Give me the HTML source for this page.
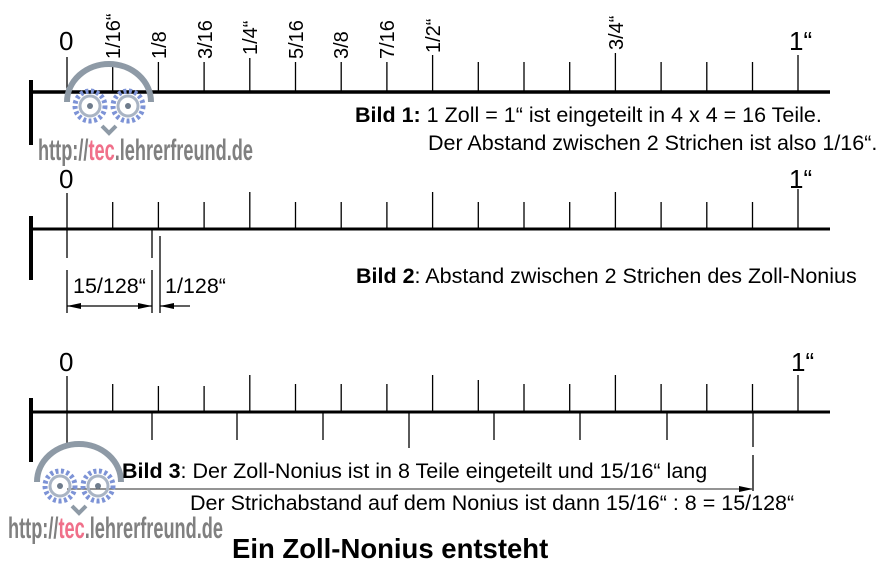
<!DOCTYPE html>
<html><head><meta charset="utf-8"><style>
html,body{margin:0;padding:0;background:#fff}
svg{display:block}
text{font-family:"Liberation Sans",sans-serif;fill:#000}
</style></head><body>
<svg width="880" height="579" viewBox="0 0 880 579" xmlns="http://www.w3.org/2000/svg">
<defs>
<marker id="al" markerWidth="14" markerHeight="6" refX="0" refY="3" orient="auto" markerUnits="userSpaceOnUse"><path d="M14,0 L0,3 L14,6 Z" fill="#000"/></marker>
<marker id="ar" markerWidth="14" markerHeight="6" refX="14" refY="3" orient="auto" markerUnits="userSpaceOnUse"><path d="M0,0 L14,3 L0,6 Z" fill="#000"/></marker>
<g id="owl">
<path d="M-42,14 A42,38 0 0 1 42,14" fill="none" stroke="#8e9aa6" stroke-width="6"/>
<g fill="none" stroke="#7d93d6" stroke-width="5" stroke-dasharray="3 2.5"><circle cx="-19" cy="18" r="15"/><circle cx="19" cy="18" r="15"/></g>
<g fill="none" stroke="#a9b4c4" stroke-width="3"><circle cx="-19" cy="18" r="10"/><circle cx="19" cy="18" r="10"/></g>
<circle cx="-19" cy="18" r="3" fill="#6f7c8c"/><circle cx="19" cy="18" r="3" fill="#6f7c8c"/>
<path d="M-7,38 L0,45 L7,38" fill="none" stroke="#8e9aa6" stroke-width="4"/>
</g>
</defs>

<!-- Ruler 1 -->
<g stroke="#000">
<line x1="31" y1="80" x2="31" y2="145" stroke-width="4"/>
<line x1="31" y1="92" x2="830" y2="92" stroke-width="3.5"/>
<g stroke-width="1.3">
<line x1="67" y1="57" x2="67" y2="92"/><line x1="112.7" y1="62" x2="112.7" y2="92"/><line x1="158.4" y1="62" x2="158.4" y2="92"/><line x1="204.1" y1="62" x2="204.1" y2="92"/><line x1="249.8" y1="58" x2="249.8" y2="92"/><line x1="295.5" y1="62" x2="295.5" y2="92"/><line x1="341.2" y1="62" x2="341.2" y2="92"/><line x1="386.9" y1="62" x2="386.9" y2="92"/><line x1="432.6" y1="55" x2="432.6" y2="92"/><line x1="478.3" y1="62" x2="478.3" y2="92"/><line x1="524" y1="62" x2="524" y2="92"/><line x1="569.7" y1="62" x2="569.7" y2="92"/><line x1="615.4" y1="53" x2="615.4" y2="92"/><line x1="661.1" y1="62" x2="661.1" y2="92"/><line x1="706.8" y1="62" x2="706.8" y2="92"/><line x1="752.5" y1="62" x2="752.5" y2="92"/><line x1="798" y1="55" x2="798" y2="92"/>
</g></g>
<text x="59" y="50" font-size="26">0</text>
<text x="789" y="50" font-size="26">1“</text>
<g font-size="20" text-anchor="start">
<text transform="translate(120,59) rotate(-90)">1/16“</text>
<text transform="translate(166,59) rotate(-90)">1/8</text>
<text transform="translate(212,59) rotate(-90)">3/16</text>
<text transform="translate(257,55) rotate(-90)">1/4“</text>
<text transform="translate(303,59) rotate(-90)">5/16</text>
<text transform="translate(348,59) rotate(-90)">3/8</text>
<text transform="translate(394,59) rotate(-90)">7/16</text>
<text transform="translate(440,53) rotate(-90)">1/2“</text>
<text transform="translate(623,50) rotate(-90)">3/4“</text>
</g>
<use href="#owl" transform="translate(109,88)"/>
<text x="38" y="160" font-size="30" font-weight="bold" textLength="215" lengthAdjust="spacingAndGlyphs" style="fill:#808080">http://<tspan style="fill:#f0708a">tec</tspan>.lehrerfreund.de</text>
<text x="355" y="122" font-size="21.5"><tspan font-weight="bold">Bild 1:</tspan>  1 Zoll = 1“ ist eingeteilt in 4 x 4 = 16 Teile.</text>
<text x="428" y="150" font-size="21.5">Der Abstand zwischen 2 Strichen ist also 1/16“.</text>

<!-- Ruler 2 -->
<g stroke="#000">
<line x1="31" y1="216" x2="31" y2="280" stroke-width="4"/>
<line x1="31" y1="229" x2="830" y2="229" stroke-width="3"/>
<g stroke-width="1.3">
<line x1="67" y1="193" x2="67" y2="258"/><line x1="67" y1="270" x2="67" y2="313"/>
<line x1="112.7" y1="202" x2="112.7" y2="229"/><line x1="158.4" y1="202" x2="158.4" y2="229"/><line x1="204.1" y1="202" x2="204.1" y2="229"/><line x1="249.8" y1="192" x2="249.8" y2="229"/><line x1="295.5" y1="202" x2="295.5" y2="229"/><line x1="341.2" y1="202" x2="341.2" y2="229"/><line x1="386.9" y1="202" x2="386.9" y2="229"/><line x1="432.6" y1="192" x2="432.6" y2="229"/><line x1="478.3" y1="202" x2="478.3" y2="229"/><line x1="524" y1="202" x2="524" y2="229"/><line x1="569.7" y1="202" x2="569.7" y2="229"/><line x1="615.4" y1="192" x2="615.4" y2="229"/><line x1="661.1" y1="202" x2="661.1" y2="229"/><line x1="706.8" y1="202" x2="706.8" y2="229"/><line x1="752.5" y1="202" x2="752.5" y2="229"/><line x1="798" y1="189" x2="798" y2="229"/>
<line x1="152" y1="230" x2="152" y2="258"/><line x1="152" y1="270" x2="152" y2="313"/>
<line x1="160" y1="236" x2="160" y2="313"/>
<line x1="67" y1="306" x2="152" y2="306" marker-start="url(#al)" marker-end="url(#ar)"/>
<line x1="190" y1="306" x2="160" y2="306" marker-end="url(#ar)"/>
</g></g>
<text x="59" y="188" font-size="26">0</text>
<text x="789" y="188" font-size="26">1“</text>
<text x="73" y="293" font-size="21.5">15/128“</text>
<text x="165" y="293" font-size="21.5">1/128“</text>
<text x="356" y="283" font-size="21.5"><tspan font-weight="bold">Bild 2</tspan>: Abstand zwischen 2 Strichen des Zoll-Nonius</text>

<!-- Ruler 3 -->
<g stroke="#000">
<line x1="31" y1="398" x2="31" y2="462" stroke-width="4"/>
<line x1="31" y1="412" x2="830" y2="412" stroke-width="3"/>
<g stroke-width="1.3">
<line x1="67" y1="376" x2="67" y2="448"/>
<line x1="112.7" y1="384" x2="112.7" y2="412"/><line x1="158.4" y1="386" x2="158.4" y2="412"/><line x1="204.1" y1="386" x2="204.1" y2="412"/><line x1="249.8" y1="375" x2="249.8" y2="412"/><line x1="295.5" y1="384" x2="295.5" y2="412"/><line x1="341.2" y1="384" x2="341.2" y2="412"/><line x1="386.9" y1="384" x2="386.9" y2="412"/><line x1="432.6" y1="375" x2="432.6" y2="412"/><line x1="478.3" y1="380" x2="478.3" y2="412"/><line x1="524" y1="384" x2="524" y2="412"/><line x1="569.7" y1="384" x2="569.7" y2="412"/><line x1="615.4" y1="375" x2="615.4" y2="412"/><line x1="661.1" y1="384" x2="661.1" y2="412"/><line x1="706.8" y1="384" x2="706.8" y2="412"/><line x1="752.5" y1="384" x2="752.5" y2="412"/><line x1="798" y1="375" x2="798" y2="412"/>
<line x1="152" y1="412" x2="152" y2="440"/><line x1="237" y1="412" x2="237" y2="440"/><line x1="323" y1="412" x2="323" y2="440"/><line x1="409" y1="412" x2="409" y2="448"/>
<line x1="494" y1="412" x2="494" y2="440"/><line x1="580" y1="412" x2="580" y2="440"/><line x1="667" y1="412" x2="667" y2="440"/><line x1="753" y1="412" x2="753" y2="447"/>
<line x1="753" y1="455" x2="753" y2="491"/>
<line x1="67" y1="489" x2="753" y2="489" stroke="#555" marker-end="url(#ar)"/>
</g></g>
<text x="59" y="371" font-size="26">0</text>
<text x="791" y="371" font-size="26">1“</text>
<use href="#owl" transform="translate(79,468)"/>
<text x="8" y="538" font-size="30" font-weight="bold" textLength="215" lengthAdjust="spacingAndGlyphs" style="fill:#808080">http://<tspan style="fill:#f0708a">tec</tspan>.lehrerfreund.de</text>
<text x="122" y="478" font-size="21.5"><tspan font-weight="bold">Bild 3</tspan>: Der Zoll-Nonius ist in 8 Teile eingeteilt und 15/16“ lang</text>
<text x="190" y="510" font-size="21.5">Der Strichabstand auf dem Nonius ist dann 15/16“ : 8 = 15/128“</text>
<text x="232" y="558" font-size="27.5" font-weight="bold">Ein Zoll-Nonius entsteht</text>
</svg>
</body></html>
